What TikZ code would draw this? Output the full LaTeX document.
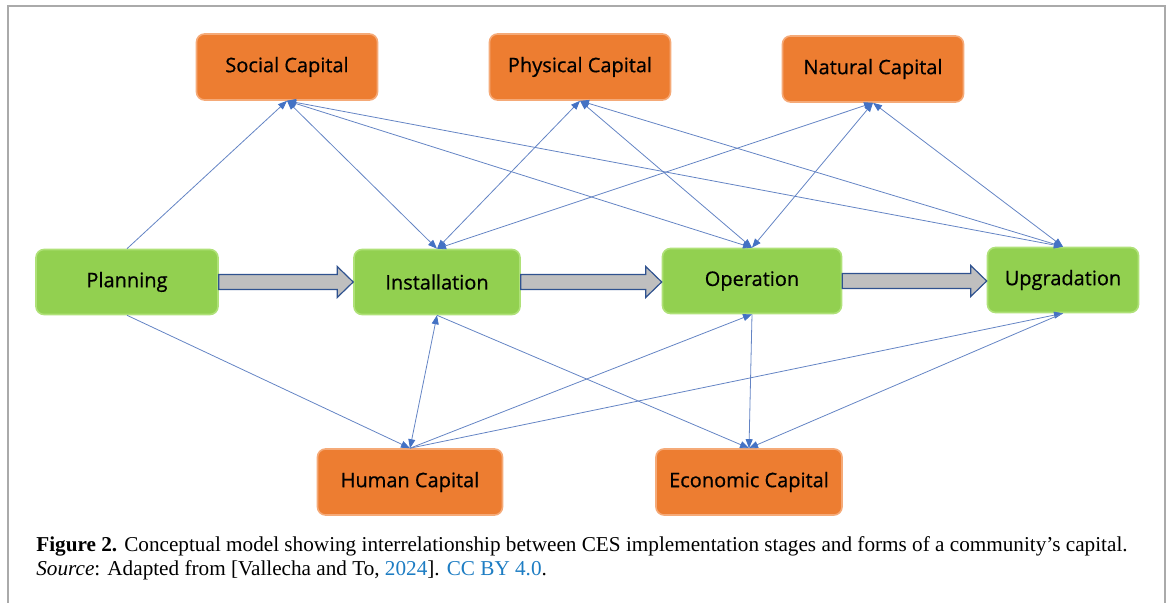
\documentclass[tikz,border=0pt]{standalone}
\usepackage{fontspec}
\usepackage{tikz}
\setmainfont{Liberation Serif}
\newfontfamily\boxfont[FakeBold=0.6]{Open Sans}
\usetikzlibrary{arrows.meta,calc}
\definecolor{capfill}{RGB}{237,125,49}
\definecolor{capedge}{RGB}{245,170,120}
\definecolor{stagefill}{RGB}{146,208,80}
\definecolor{stageedge}{RGB}{175,225,120}
\definecolor{linkblue}{RGB}{100,132,196}
\definecolor{tipblue}{RGB}{68,114,196}
\definecolor{arrowgray}{RGB}{191,191,191}
\definecolor{arrowedge}{RGB}{47,82,143}
\definecolor{refblue}{RGB}{30,125,195}
\definecolor{framegray}{RGB}{170,170,170}

% block arrow from one stage to the next
\newcommand{\stagearrow}[2]{%
  \draw[stagearr] let \p1=(#1.east), \p2=(#2.west) in
    (\x1,\y1+3.75pt) -- (\x2-8pt,\y1+3.75pt) -- (\x2-8pt,\y1+7.75pt) -- (\x2,\y1)
    -- (\x2-8pt,\y1-7.75pt) -- (\x2-8pt,\y1-3.75pt) -- (\x1,\y1-3.75pt) -- cycle;}

\begin{document}
\begin{tikzpicture}[x=0.5pt,y=-0.5pt,
		  capital/.style={rectangle,rounded corners=4pt,fill=capfill,draw=capedge,line width=0.8pt,
		    minimum width=90.5pt,minimum height=33pt,inner sep=0pt,font=\boxfont\fontsize{10}{12}\selectfont},
		  stage/.style={rectangle,rounded corners=4pt,fill=stagefill,draw=stageedge,line width=0.8pt,
		    minimum height=32.5pt,inner sep=0pt,font=\boxfont\fontsize{10}{12}\selectfont},
		  link/.style={draw=linkblue,line width=0.4pt},
		  stagearr/.style={fill=arrowgray,draw=arrowedge,line width=0.6pt,line join=miter},
		  >={Triangle[length=4.5pt,width=3.5pt,color=tipblue]}
		]
			\useasboundingbox (0,0) rectangle (1168,603);

			% the frame
			\draw[framegray,line width=1pt] (8,603) -- (8,6) -- (1165,6) -- (1165,603);

			% the capitals
			\node[capital] (social) at (287,67) {Social Capital};
			\node[capital] (physical) at (580,67) {Physical Capital};
			\node[capital] (natural) at (873,69) {Natural Capital};
			\node[capital,minimum width=92.5pt] (human) at (410,482) {Human Capital};
			\node[capital,minimum width=93pt] (econ) at (749,482) {Economic Capital};

			% the stages
			\node[stage,minimum width=91pt] (plan) at (127,282) {Planning};
			\node[stage,minimum width=83pt] (install) at (437,282) {Installation};
			\node[stage,minimum width=89.5pt] (oper) at (752,281) {Operation};
			\node[stage,minimum width=75.5pt] (upgr) at (1063,280) {Upgradation};

			% the block arrows
			\stagearrow{plan}{install}
			\stagearrow{install}{oper}
			\stagearrow{oper}{upgr}

			% the links above
			\draw[link,->] (plan.north) -- (social.south);
			\foreach \c in {social,physical,natural}
			  \foreach \s in {install,oper,upgr}
			    \draw[link,<->] (\c.south) -- (\s.north);

			% the links below
			\draw[link,->] (plan.south) -- (human.north);
			\draw[link,<->] (install.south) -- (human.north);
			\draw[link,->] (human.north) -- (oper.south);
			\draw[link,->] (human.north) -- (upgr.south);
			\foreach \s in {install,oper,upgr}
			  \draw[link,->] (\s.south) -- (econ.north);

			% the caption
			\node[anchor=base west,inner sep=0pt,font=\fontsize{10.6}{12}\selectfont] (cap1) at (36,552)
			  {\textbf{Figure 2.} Conceptual model showing interrelationship between CES implementation stages and forms of a community’s capital.};
			\node[anchor=base west,inner sep=0pt,font=\fontsize{10.6}{12}\selectfont] (cap2) at (36,576)
			  {\textit{Source}: Adapted from [Vallecha and To, \textcolor{refblue}{2024}]. \textcolor{refblue}{CC BY 4.0}.};

		\end{tikzpicture}
\end{document}
